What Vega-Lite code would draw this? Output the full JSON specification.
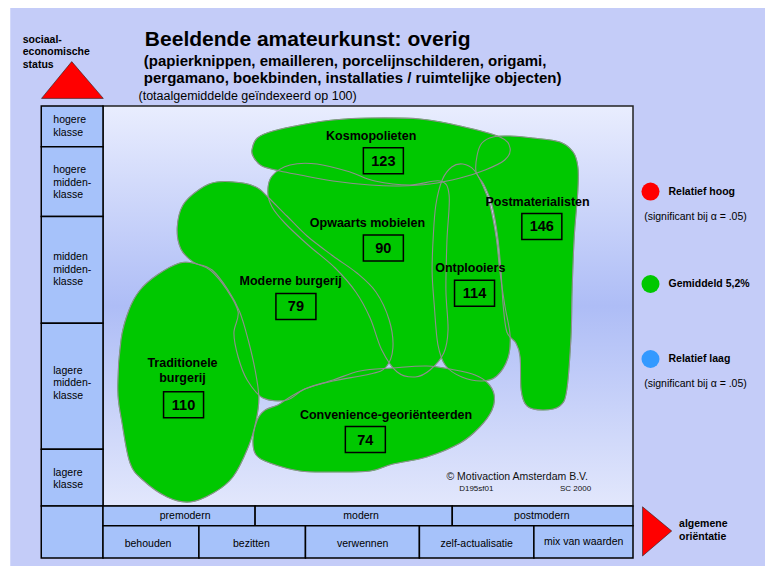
{
  "$schema": "https://vega.github.io/schema/vega-lite/v6.json",
  "width": 530,
  "height": 400,
  "autosize": {"type": "none"},
  "padding": {"left": 103, "top": 106, "right": 132, "bottom": 67},
  "background": "#ffffff",
  "config": {"view": {"stroke": null}, "font": "Liberation Sans"},
  "datasets": {
    "achtergrond": [{"x": -17.5, "x2": 125, "y": 124.5, "y2": -15}],
    "kader": [{"x": 0, "x2": 100, "y": 100, "y2": 0}],
    "cellen": [
      {"x": -11.65, "x2": 0, "y": 100, "y2": 89.8},
      {"x": -11.65, "x2": 0, "y": 89.8, "y2": 72.4},
      {"x": -11.65, "x2": 0, "y": 72.4, "y2": 45.7},
      {"x": -11.65, "x2": 0, "y": 45.7, "y2": 14.2},
      {"x": -11.65, "x2": 0, "y": 14.2, "y2": 0},
      {"x": -11.65, "x2": 0, "y": 0, "y2": -13.0},
      {"x": 0, "x2": 28.7, "y": 0, "y2": -4.95},
      {"x": 28.7, "x2": 65.9, "y": 0, "y2": -4.95},
      {"x": 65.9, "x2": 100, "y": 0, "y2": -4.95},
      {"x": 0, "x2": 18.1, "y": -4.95, "y2": -13.0},
      {"x": 18.1, "x2": 38.2, "y": -4.95, "y2": -13.0},
      {"x": 38.2, "x2": 59.7, "y": -4.95, "y2": -13.0},
      {"x": 59.7, "x2": 81.3, "y": -4.95, "y2": -13.0},
      {"x": 81.3, "x2": 100, "y": -4.95, "y2": -13.0}
    ],
    "segmenten": [
      {"segment": "Kosmopolieten", "i": 0, "x": 28.1, "y": 89.0},
      {"segment": "Kosmopolieten", "i": 1, "x": 29.1, "y": 92.0},
      {"segment": "Kosmopolieten", "i": 2, "x": 32.1, "y": 93.75},
      {"segment": "Kosmopolieten", "i": 3, "x": 37.2, "y": 95.25},
      {"segment": "Kosmopolieten", "i": 4, "x": 43.4, "y": 96.5},
      {"segment": "Kosmopolieten", "i": 5, "x": 50.4, "y": 97.0},
      {"segment": "Kosmopolieten", "i": 6, "x": 59.8, "y": 96.75},
      {"segment": "Kosmopolieten", "i": 7, "x": 67.4, "y": 95.0},
      {"segment": "Kosmopolieten", "i": 8, "x": 74.9, "y": 92.25},
      {"segment": "Kosmopolieten", "i": 9, "x": 76.8, "y": 89.5},
      {"segment": "Kosmopolieten", "i": 10, "x": 75.8, "y": 86.5},
      {"segment": "Kosmopolieten", "i": 11, "x": 72.1, "y": 84.0},
      {"segment": "Kosmopolieten", "i": 12, "x": 67.4, "y": 82.0},
      {"segment": "Kosmopolieten", "i": 13, "x": 61.7, "y": 80.5},
      {"segment": "Kosmopolieten", "i": 14, "x": 56.0, "y": 80.0},
      {"segment": "Kosmopolieten", "i": 15, "x": 50.4, "y": 80.25},
      {"segment": "Kosmopolieten", "i": 16, "x": 43.4, "y": 81.25},
      {"segment": "Kosmopolieten", "i": 17, "x": 37.2, "y": 82.75},
      {"segment": "Kosmopolieten", "i": 18, "x": 33.4, "y": 83.75},
      {"segment": "Kosmopolieten", "i": 19, "x": 30.0, "y": 85.0},
      {"segment": "Kosmopolieten", "i": 20, "x": 28.5, "y": 87.0},

      {"segment": "Postmaterialisten", "i": 0, "x": 70.4, "y": 83.5},
      {"segment": "Postmaterialisten", "i": 1, "x": 70.6, "y": 87.75},
      {"segment": "Postmaterialisten", "i": 2, "x": 71.5, "y": 90.75},
      {"segment": "Postmaterialisten", "i": 3, "x": 73.6, "y": 92.25},
      {"segment": "Postmaterialisten", "i": 4, "x": 76.8, "y": 92.5},
      {"segment": "Postmaterialisten", "i": 5, "x": 81.1, "y": 92.0},
      {"segment": "Postmaterialisten", "i": 6, "x": 86.2, "y": 91.0},
      {"segment": "Postmaterialisten", "i": 7, "x": 88.7, "y": 88.5},
      {"segment": "Postmaterialisten", "i": 8, "x": 89.6, "y": 84.75},
      {"segment": "Postmaterialisten", "i": 9, "x": 89.6, "y": 79.0},
      {"segment": "Postmaterialisten", "i": 10, "x": 88.9, "y": 67.0},
      {"segment": "Postmaterialisten", "i": 11, "x": 88.5, "y": 53.5},
      {"segment": "Postmaterialisten", "i": 12, "x": 88.3, "y": 42.25},
      {"segment": "Postmaterialisten", "i": 13, "x": 87.5, "y": 29.0},
      {"segment": "Postmaterialisten", "i": 14, "x": 86.2, "y": 25.0},
      {"segment": "Postmaterialisten", "i": 15, "x": 83.0, "y": 24.0},
      {"segment": "Postmaterialisten", "i": 16, "x": 80.0, "y": 25.0},
      {"segment": "Postmaterialisten", "i": 17, "x": 78.9, "y": 29.0},
      {"segment": "Postmaterialisten", "i": 18, "x": 78.7, "y": 37.25},
      {"segment": "Postmaterialisten", "i": 19, "x": 77.9, "y": 40.75},
      {"segment": "Postmaterialisten", "i": 20, "x": 76.2, "y": 43.5},
      {"segment": "Postmaterialisten", "i": 21, "x": 75.5, "y": 50.25},
      {"segment": "Postmaterialisten", "i": 22, "x": 75.1, "y": 58.5},
      {"segment": "Postmaterialisten", "i": 23, "x": 74.5, "y": 67.0},
      {"segment": "Postmaterialisten", "i": 24, "x": 73.4, "y": 75.25},
      {"segment": "Postmaterialisten", "i": 25, "x": 71.9, "y": 80.25},

      {"segment": "Ontplooiers", "i": 0, "x": 65.8, "y": 84.75},
      {"segment": "Ontplooiers", "i": 1, "x": 67.9, "y": 85.5},
      {"segment": "Ontplooiers", "i": 2, "x": 70.0, "y": 84.0},
      {"segment": "Ontplooiers", "i": 3, "x": 71.7, "y": 80.0},
      {"segment": "Ontplooiers", "i": 4, "x": 73.0, "y": 75.25},
      {"segment": "Ontplooiers", "i": 5, "x": 74.2, "y": 67.0},
      {"segment": "Ontplooiers", "i": 6, "x": 74.9, "y": 58.5},
      {"segment": "Ontplooiers", "i": 7, "x": 75.8, "y": 50.25},
      {"segment": "Ontplooiers", "i": 8, "x": 76.8, "y": 42.75},
      {"segment": "Ontplooiers", "i": 9, "x": 76.4, "y": 37.0},
      {"segment": "Ontplooiers", "i": 10, "x": 74.3, "y": 32.5},
      {"segment": "Ontplooiers", "i": 11, "x": 71.5, "y": 31.25},
      {"segment": "Ontplooiers", "i": 12, "x": 67.7, "y": 32.25},
      {"segment": "Ontplooiers", "i": 13, "x": 64.7, "y": 35.0},
      {"segment": "Ontplooiers", "i": 14, "x": 63.2, "y": 40.25},
      {"segment": "Ontplooiers", "i": 15, "x": 62.5, "y": 50.25},
      {"segment": "Ontplooiers", "i": 16, "x": 62.1, "y": 58.5},
      {"segment": "Ontplooiers", "i": 17, "x": 62.3, "y": 67.0},
      {"segment": "Ontplooiers", "i": 18, "x": 62.8, "y": 75.25},
      {"segment": "Ontplooiers", "i": 19, "x": 64.0, "y": 81.5},

      {"segment": "Opwaarts mobielen", "i": 0, "x": 31.1, "y": 78.5},
      {"segment": "Opwaarts mobielen", "i": 1, "x": 31.9, "y": 82.5},
      {"segment": "Opwaarts mobielen", "i": 2, "x": 35.3, "y": 85.25},
      {"segment": "Opwaarts mobielen", "i": 3, "x": 40.4, "y": 85.5},
      {"segment": "Opwaarts mobielen", "i": 4, "x": 46.6, "y": 83.5},
      {"segment": "Opwaarts mobielen", "i": 5, "x": 51.3, "y": 81.25},
      {"segment": "Opwaarts mobielen", "i": 6, "x": 57.9, "y": 80.25},
      {"segment": "Opwaarts mobielen", "i": 7, "x": 63.6, "y": 81.25},
      {"segment": "Opwaarts mobielen", "i": 8, "x": 65.3, "y": 77.75},
      {"segment": "Opwaarts mobielen", "i": 9, "x": 64.9, "y": 66.5},
      {"segment": "Opwaarts mobielen", "i": 10, "x": 64.7, "y": 54.0},
      {"segment": "Opwaarts mobielen", "i": 11, "x": 65.1, "y": 44.0},
      {"segment": "Opwaarts mobielen", "i": 12, "x": 64.3, "y": 38.25},
      {"segment": "Opwaarts mobielen", "i": 13, "x": 61.7, "y": 34.0},
      {"segment": "Opwaarts mobielen", "i": 14, "x": 58.9, "y": 32.25},
      {"segment": "Opwaarts mobielen", "i": 15, "x": 55.5, "y": 33.5},
      {"segment": "Opwaarts mobielen", "i": 16, "x": 52.6, "y": 39.0},
      {"segment": "Opwaarts mobielen", "i": 17, "x": 50.4, "y": 47.0},
      {"segment": "Opwaarts mobielen", "i": 18, "x": 47.7, "y": 53.5},
      {"segment": "Opwaarts mobielen", "i": 19, "x": 43.8, "y": 59.5},
      {"segment": "Opwaarts mobielen", "i": 20, "x": 38.7, "y": 65.25},
      {"segment": "Opwaarts mobielen", "i": 21, "x": 34.3, "y": 70.75},
      {"segment": "Opwaarts mobielen", "i": 22, "x": 31.9, "y": 74.75},

      {"segment": "Moderne burgerij", "i": 0, "x": 14.0, "y": 69.5},
      {"segment": "Moderne burgerij", "i": 1, "x": 15.1, "y": 75.25},
      {"segment": "Moderne burgerij", "i": 2, "x": 18.3, "y": 79.25},
      {"segment": "Moderne burgerij", "i": 3, "x": 21.5, "y": 81.0},
      {"segment": "Moderne burgerij", "i": 4, "x": 26.4, "y": 80.75},
      {"segment": "Moderne burgerij", "i": 5, "x": 29.2, "y": 79.5},
      {"segment": "Moderne burgerij", "i": 6, "x": 31.1, "y": 77.25},
      {"segment": "Moderne burgerij", "i": 7, "x": 34.7, "y": 72.5},
      {"segment": "Moderne burgerij", "i": 8, "x": 38.5, "y": 67.5},
      {"segment": "Moderne burgerij", "i": 9, "x": 43.4, "y": 62.5},
      {"segment": "Moderne burgerij", "i": 10, "x": 47.9, "y": 58.25},
      {"segment": "Moderne burgerij", "i": 11, "x": 51.5, "y": 53.5},
      {"segment": "Moderne burgerij", "i": 12, "x": 54.0, "y": 46.5},
      {"segment": "Moderne burgerij", "i": 13, "x": 54.7, "y": 39.5},
      {"segment": "Moderne burgerij", "i": 14, "x": 53.4, "y": 34.75},
      {"segment": "Moderne burgerij", "i": 15, "x": 50.4, "y": 33.0},
      {"segment": "Moderne burgerij", "i": 16, "x": 43.4, "y": 31.25},
      {"segment": "Moderne burgerij", "i": 17, "x": 38.1, "y": 29.25},
      {"segment": "Moderne burgerij", "i": 18, "x": 34.7, "y": 26.5},
      {"segment": "Moderne burgerij", "i": 19, "x": 30.2, "y": 27.0},
      {"segment": "Moderne burgerij", "i": 20, "x": 27.2, "y": 31.5},
      {"segment": "Moderne burgerij", "i": 21, "x": 25.5, "y": 37.25},
      {"segment": "Moderne burgerij", "i": 22, "x": 24.7, "y": 43.25},
      {"segment": "Moderne burgerij", "i": 23, "x": 25.5, "y": 48.5},
      {"segment": "Moderne burgerij", "i": 24, "x": 23.4, "y": 54.0},
      {"segment": "Moderne burgerij", "i": 25, "x": 20.2, "y": 59.0},
      {"segment": "Moderne burgerij", "i": 26, "x": 17.0, "y": 61.0},
      {"segment": "Moderne burgerij", "i": 27, "x": 14.7, "y": 64.25},

      {"segment": "Convenience-georiënteerden", "i": 0, "x": 28.3, "y": 16.5},
      {"segment": "Convenience-georiënteerden", "i": 1, "x": 28.9, "y": 12.75},
      {"segment": "Convenience-georiënteerden", "i": 2, "x": 31.5, "y": 10.75},
      {"segment": "Convenience-georiënteerden", "i": 3, "x": 37.2, "y": 8.75},
      {"segment": "Convenience-georiënteerden", "i": 4, "x": 43.4, "y": 8.5},
      {"segment": "Convenience-georiënteerden", "i": 5, "x": 50.4, "y": 8.75},
      {"segment": "Convenience-georiënteerden", "i": 6, "x": 54.7, "y": 10.5},
      {"segment": "Convenience-georiënteerden", "i": 7, "x": 61.1, "y": 12.25},
      {"segment": "Convenience-georiënteerden", "i": 8, "x": 67.4, "y": 15.75},
      {"segment": "Convenience-georiënteerden", "i": 9, "x": 71.1, "y": 19.75},
      {"segment": "Convenience-georiënteerden", "i": 10, "x": 73.4, "y": 24.0},
      {"segment": "Convenience-georiënteerden", "i": 11, "x": 73.8, "y": 27.75},
      {"segment": "Convenience-georiënteerden", "i": 12, "x": 72.6, "y": 30.75},
      {"segment": "Convenience-georiënteerden", "i": 13, "x": 70.2, "y": 32.75},
      {"segment": "Convenience-georiënteerden", "i": 14, "x": 66.4, "y": 34.0},
      {"segment": "Convenience-georiënteerden", "i": 15, "x": 61.1, "y": 35.0},
      {"segment": "Convenience-georiënteerden", "i": 16, "x": 54.7, "y": 34.5},
      {"segment": "Convenience-georiënteerden", "i": 17, "x": 48.5, "y": 33.75},
      {"segment": "Convenience-georiënteerden", "i": 18, "x": 43.4, "y": 31.5},
      {"segment": "Convenience-georiënteerden", "i": 19, "x": 38.5, "y": 29.5},
      {"segment": "Convenience-georiënteerden", "i": 20, "x": 35.3, "y": 27.25},
      {"segment": "Convenience-georiënteerden", "i": 21, "x": 33.0, "y": 25.25},
      {"segment": "Convenience-georiënteerden", "i": 22, "x": 30.6, "y": 24.0},
      {"segment": "Convenience-georiënteerden", "i": 23, "x": 29.1, "y": 21.5},

      {"segment": "Traditionele burgerij", "i": 0, "x": 7.0, "y": 54.0},
      {"segment": "Traditionele burgerij", "i": 1, "x": 10.2, "y": 57.75},
      {"segment": "Traditionele burgerij", "i": 2, "x": 14.5, "y": 60.75},
      {"segment": "Traditionele burgerij", "i": 3, "x": 17.7, "y": 60.5},
      {"segment": "Traditionele burgerij", "i": 4, "x": 20.6, "y": 59.0},
      {"segment": "Traditionele burgerij", "i": 5, "x": 23.6, "y": 54.0},
      {"segment": "Traditionele burgerij", "i": 6, "x": 25.8, "y": 48.5},
      {"segment": "Traditionele burgerij", "i": 7, "x": 27.4, "y": 41.5},
      {"segment": "Traditionele burgerij", "i": 8, "x": 28.7, "y": 34.0},
      {"segment": "Traditionele burgerij", "i": 9, "x": 29.4, "y": 27.25},
      {"segment": "Traditionele burgerij", "i": 10, "x": 28.9, "y": 21.5},
      {"segment": "Traditionele burgerij", "i": 11, "x": 27.4, "y": 14.75},
      {"segment": "Traditionele burgerij", "i": 12, "x": 24.5, "y": 7.25},
      {"segment": "Traditionele burgerij", "i": 13, "x": 20.8, "y": 3.25},
      {"segment": "Traditionele burgerij", "i": 14, "x": 16.4, "y": 1.0},
      {"segment": "Traditionele burgerij", "i": 15, "x": 12.1, "y": 2.25},
      {"segment": "Traditionele burgerij", "i": 16, "x": 7.5, "y": 6.5},
      {"segment": "Traditionele burgerij", "i": 17, "x": 5.1, "y": 10.75},
      {"segment": "Traditionele burgerij", "i": 18, "x": 3.6, "y": 20.75},
      {"segment": "Traditionele burgerij", "i": 19, "x": 2.8, "y": 29.0},
      {"segment": "Traditionele burgerij", "i": 20, "x": 3.4, "y": 41.5},
      {"segment": "Traditionele burgerij", "i": 21, "x": 4.9, "y": 49.0}
    ],
    "waarden": [
      {"segment": "Kosmopolieten", "x": 52.9, "y": 86.3, "index": 123},
      {"segment": "Opwaarts mobielen", "x": 52.9, "y": 64.5, "index": 90},
      {"segment": "Moderne burgerij", "x": 36.4, "y": 49.9, "index": 79},
      {"segment": "Traditionele burgerij", "x": 15.2, "y": 25.3, "index": 110},
      {"segment": "Convenience-georiënteerden", "x": 49.5, "y": 16.6, "index": 74},
      {"segment": "Ontplooiers", "x": 70.1, "y": 53.2, "index": 114},
      {"segment": "Postmaterialisten", "x": 82.8, "y": 69.9, "index": 146}
    ],
    "driehoeken": [
      {"as": "status", "i": 0, "x": -5.9, "y": 111.1},
      {"as": "status", "i": 1, "x": -11.6, "y": 101.9},
      {"as": "status", "i": 2, "x": 0.06, "y": 101.9},
      {"as": "orientatie", "i": 0, "x": 101.8, "y": -0.2},
      {"as": "orientatie", "i": 1, "x": 101.8, "y": -12.5},
      {"as": "orientatie", "i": 2, "x": 107.3, "y": -6.25}
    ],
    "legenda": [
      {"niveau": "Relatief hoog", "x": 103.3, "y": 78.6},
      {"niveau": "Gemiddeld 5,2%", "x": 103.3, "y": 55.5},
      {"niveau": "Relatief laag", "x": 103.3, "y": 36.75}
    ],
    "teksten": [
      {"rol": "titel", "x": 7.9, "y": 115.1, "tekst": "Beeldende amateurkunst: overig"},
      {"rol": "ondertitel", "x": 7.7, "y": 110.0, "tekst": "(papierknippen, emailleren, porcelijnschilderen, origami,"},
      {"rol": "ondertitel", "x": 7.7, "y": 105.75, "tekst": "pergamano, boekbinden, installaties / ruimtelijke objecten)"},
      {"rol": "noot", "x": 6.7, "y": 101.6, "tekst": "(totaalgemiddelde geïndexeerd op 100)"},
      {"rol": "as", "x": -15.15, "y": 116.5, "tekst": "sociaal-\neconomische\nstatus"},
      {"rol": "as", "x": 108.7, "y": -4.6, "tekst": "algemene\noriëntatie"},
      {"rol": "klasse", "x": -9.38, "y": 96.5, "tekst": "hogere\nklasse"},
      {"rol": "klasse", "x": -9.38, "y": 84.0, "tekst": "hogere\nmidden-\nklasse"},
      {"rol": "klasse", "x": -9.38, "y": 62.2, "tekst": "midden\nmidden-\nklasse"},
      {"rol": "klasse", "x": -9.38, "y": 33.8, "tekst": "lagere\nmidden-\nklasse"},
      {"rol": "klasse", "x": -9.38, "y": 8.3, "tekst": "lagere\nklasse"},
      {"rol": "orientatie", "x": 15.5, "y": -2.4, "tekst": "premodern"},
      {"rol": "orientatie", "x": 48.7, "y": -2.4, "tekst": "modern"},
      {"rol": "orientatie", "x": 82.8, "y": -2.4, "tekst": "postmodern"},
      {"rol": "orientatie", "x": 8.5, "y": -9.4, "tekst": "behouden"},
      {"rol": "orientatie", "x": 28.0, "y": -9.4, "tekst": "bezitten"},
      {"rol": "orientatie", "x": 49.0, "y": -9.4, "tekst": "verwennen"},
      {"rol": "orientatie", "x": 70.5, "y": -9.4, "tekst": "zelf-actualisatie"},
      {"rol": "orientatie", "x": 90.7, "y": -9.0, "tekst": "mix van waarden"},
      {"rol": "legenda", "x": 106.7, "y": 78.6, "tekst": "Relatief hoog"},
      {"rol": "legenda", "x": 106.7, "y": 55.5, "tekst": "Gemiddeld 5,2%"},
      {"rol": "legenda", "x": 106.7, "y": 36.75, "tekst": "Relatief laag"},
      {"rol": "significant", "x": 102.1, "y": 72.3, "tekst": "(significant bij α = .05)"},
      {"rol": "significant", "x": 102.1, "y": 30.5, "tekst": "(significant bij α = .05)"},
      {"rol": "copyright", "x": 64.8, "y": 7.3, "tekst": "© Motivaction Amsterdam B.V."},
      {"rol": "code", "x": 67.2, "y": 4.2, "tekst": "D195sf01"},
      {"rol": "code-r", "x": 92.1, "y": 4.2, "tekst": "SC 2000"},
      {"rol": "segment", "x": 50.6, "y": 92.5, "tekst": "Kosmopolieten"},
      {"rol": "segment", "x": 49.9, "y": 70.8, "tekst": "Opwaarts mobielen"},
      {"rol": "segment", "x": 35.4, "y": 56.3, "tekst": "Moderne burgerij"},
      {"rol": "segment", "x": 15.0, "y": 35.8, "tekst": "Traditionele\nburgerij"},
      {"rol": "segment", "x": 53.4, "y": 22.8, "tekst": "Convenience-georiënteerden"},
      {"rol": "segment", "x": 69.3, "y": 59.6, "tekst": "Ontplooiers"},
      {"rol": "segment", "x": 82.0, "y": 76.1, "tekst": "Postmaterialisten"}
    ]
  },
  "encoding": {
    "x": {"field": "x", "type": "quantitative", "scale": {"domain": [0, 100], "nice": false, "zero": false}, "axis": null},
    "y": {"field": "y", "type": "quantitative", "scale": {"domain": [0, 100], "nice": false, "zero": false}, "axis": null}
  },
  "layer": [
    {
      "data": {"name": "achtergrond"},
      "mark": {"type": "rect", "fill": "#c4ccf8", "strokeWidth": 0},
      "encoding": {"x2": {"field": "x2"}, "y2": {"field": "y2"}}
    },
    {
      "data": {"name": "kader"},
      "mark": {
        "type": "rect",
        "fill": {"gradient": "linear", "x1": 0, "y1": 0, "x2": 0, "y2": 1,
          "stops": [{"offset": 0, "color": "#e9edfe"}, {"offset": 0.5, "color": "#aebdf6"}, {"offset": 1, "color": "#e2e7fc"}]},
        "stroke": "#222222", "strokeWidth": 1.5
      },
      "encoding": {"x2": {"field": "x2"}, "y2": {"field": "y2"}}
    },
    {
      "data": {"name": "cellen"},
      "mark": {"type": "rect", "fill": "#a6c2fa", "stroke": "#000000", "strokeWidth": 1.5},
      "encoding": {"x2": {"field": "x2"}, "y2": {"field": "y2"}}
    },
    {
      "data": {"name": "segmenten"},
      "mark": {"type": "line", "interpolate": "cardinal-closed", "fill": "#00c800", "stroke": "#00c800", "strokeWidth": 0.5},
      "encoding": {"detail": {"field": "segment"}, "order": {"field": "i", "type": "quantitative"}}
    },
    {
      "data": {"name": "segmenten"},
      "mark": {"type": "line", "interpolate": "cardinal-closed", "stroke": "#8f8f8f", "strokeWidth": 1.1},
      "encoding": {"detail": {"field": "segment"}, "order": {"field": "i", "type": "quantitative"}}
    },
    {
      "data": {"name": "waarden"},
      "mark": {"type": "point", "shape": "M-1,-0.65H1V0.65H-1Z", "size": 1600, "filled": false, "stroke": "#000000", "strokeWidth": 1.5, "opacity": 1}
    },
    {
      "data": {"name": "waarden"},
      "mark": {"type": "text", "fontSize": 14.5, "fontWeight": "bold", "color": "#000000", "baseline": "middle", "align": "center", "dy": 1},
      "encoding": {"text": {"field": "index"}}
    },
    {
      "data": {"name": "driehoeken"},
      "mark": {"type": "line", "interpolate": "linear-closed", "fill": "#ff0000", "stroke": "#222222", "strokeWidth": 0.6},
      "encoding": {"detail": {"field": "as"}, "order": {"field": "i", "type": "quantitative"}}
    },
    {
      "data": {"name": "legenda"},
      "mark": {"type": "circle", "size": 324, "opacity": 1},
      "encoding": {"color": {"field": "niveau", "type": "nominal",
        "scale": {"domain": ["Relatief hoog", "Gemiddeld 5,2%", "Relatief laag"], "range": ["#ff0000", "#00c800", "#3399ff"]}, "legend": null}}
    },
    {
      "data": {"name": "teksten"},
      "transform": [{"filter": "datum.rol === 'titel'"}],
      "mark": {"type": "text", "align": "left", "baseline": "alphabetic", "fontSize": 21, "fontWeight": "bold", "color": "#000000"},
      "encoding": {"text": {"field": "tekst"}}
    },
    {
      "data": {"name": "teksten"},
      "transform": [{"filter": "datum.rol === 'ondertitel'"}],
      "mark": {"type": "text", "align": "left", "baseline": "alphabetic", "fontSize": 15, "fontWeight": "bold", "color": "#000000"},
      "encoding": {"text": {"field": "tekst"}}
    },
    {
      "data": {"name": "teksten"},
      "transform": [{"filter": "datum.rol === 'noot'"}],
      "mark": {"type": "text", "align": "left", "baseline": "alphabetic", "fontSize": 12.5, "color": "#000000"},
      "encoding": {"text": {"field": "tekst"}}
    },
    {
      "data": {"name": "teksten"},
      "transform": [{"filter": "datum.rol === 'as'"}],
      "mark": {"type": "text", "align": "left", "baseline": "middle", "fontSize": 10.5, "fontWeight": "bold", "lineBreak": "\n", "lineHeight": 12.3, "color": "#000000"},
      "encoding": {"text": {"field": "tekst"}}
    },
    {
      "data": {"name": "teksten"},
      "transform": [{"filter": "datum.rol === 'klasse'"}],
      "mark": {"type": "text", "align": "left", "baseline": "middle", "fontSize": 10.5, "lineBreak": "\n", "lineHeight": 12.5, "color": "#000000"},
      "encoding": {"text": {"field": "tekst"}}
    },
    {
      "data": {"name": "teksten"},
      "transform": [{"filter": "datum.rol === 'orientatie'"}],
      "mark": {"type": "text", "align": "center", "baseline": "middle", "fontSize": 10.5, "color": "#000000"},
      "encoding": {"text": {"field": "tekst"}}
    },
    {
      "data": {"name": "teksten"},
      "transform": [{"filter": "datum.rol === 'legenda'"}],
      "mark": {"type": "text", "align": "left", "baseline": "middle", "fontSize": 10.5, "fontWeight": "bold", "color": "#000000"},
      "encoding": {"text": {"field": "tekst"}}
    },
    {
      "data": {"name": "teksten"},
      "transform": [{"filter": "datum.rol === 'significant'"}],
      "mark": {"type": "text", "align": "left", "baseline": "middle", "fontSize": 10.5, "color": "#000000"},
      "encoding": {"text": {"field": "tekst"}}
    },
    {
      "data": {"name": "teksten"},
      "transform": [{"filter": "datum.rol === 'copyright'"}],
      "mark": {"type": "text", "align": "left", "baseline": "middle", "fontSize": 10.5, "color": "#111111"},
      "encoding": {"text": {"field": "tekst"}}
    },
    {
      "data": {"name": "teksten"},
      "transform": [{"filter": "datum.rol === 'code'"}],
      "mark": {"type": "text", "align": "left", "baseline": "middle", "fontSize": 8, "color": "#111111"},
      "encoding": {"text": {"field": "tekst"}}
    },
    {
      "data": {"name": "teksten"},
      "transform": [{"filter": "datum.rol === 'code-r'"}],
      "mark": {"type": "text", "align": "right", "baseline": "middle", "fontSize": 8, "color": "#111111"},
      "encoding": {"text": {"field": "tekst"}}
    },
    {
      "data": {"name": "teksten"},
      "transform": [{"filter": "datum.rol === 'segment'"}],
      "mark": {"type": "text", "align": "center", "baseline": "middle", "fontSize": 12.5, "fontWeight": "bold", "lineBreak": "\n", "lineHeight": 15.5, "color": "#000000"},
      "encoding": {"text": {"field": "tekst"}}
    }
  ]
}
